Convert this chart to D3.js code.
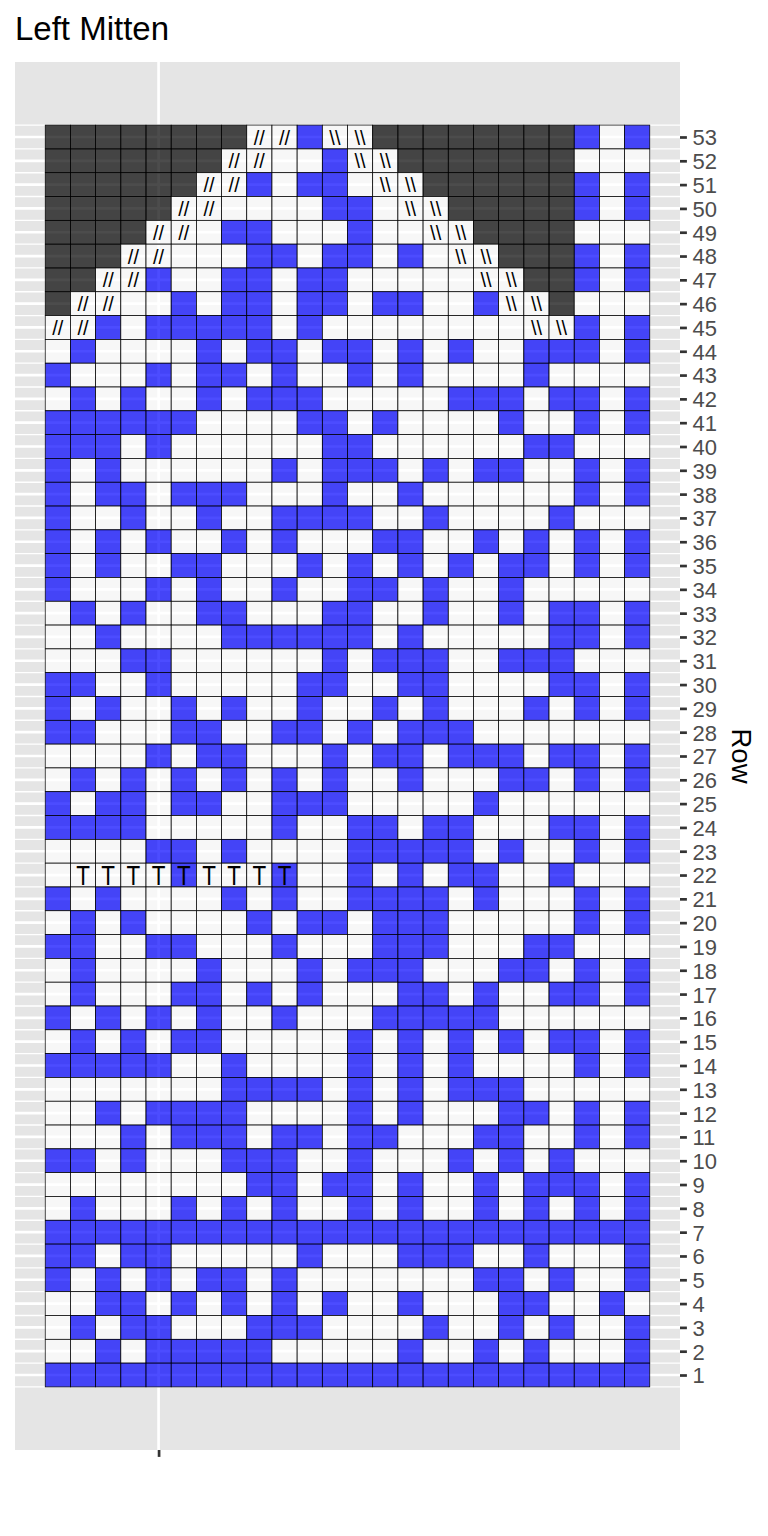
<!DOCTYPE html>
<html>
<head>
<meta charset="utf-8">
<script src="https://cdn.jsdelivr.net/npm/d3@7"></script>
<style>
html, body { margin: 0; padding: 0; background: #ffffff; }
svg { display: block; }
</style>
</head>
<body>
<svg id="chart" width="768" height="1536"></svg>
<script>
// ---------------- DATA ----------------
const chartTitle = "Left Mitten";
const yAxisTitle = "Row";

// y tick labels (rows) and columns
const rowNumbers = [1,2,3,4,5,6,7,8,9,10,11,12,13,14,15,16,17,18,19,20,21,22,23,24,25,26,27,
  28,29,30,31,32,33,34,35,36,37,38,39,40,41,42,43,44,45,46,47,48,49,50,51,52,53];
const columnNumbers = [1,2,3,4,5,6,7,8,9,10,11,12,13,14,15,16,17,18,19,20,21,22,23,24];
const xBreaks = [5];

// Colour of each cell, one string per row (row 53 first), one letter per column
// B = blue, W = white, D = dark (no stitch)
const colourRows = [
  "DDDDDDDDWWBWWDDDDDDDDBWB", // 53
  "DDDDDDDWWWWBWWDDDDDDDWWW", // 52
  "DDDDDDWWBWBBWWWDDDDDDBWB", // 51
  "DDDDDWWWWWWBBWWWDDDDDBWB", // 50
  "DDDDWWWBBWWWBWWWWDDDDWWW", // 49
  "DDDWWWWWBBWBBWBWWWDDDBWB", // 48
  "DDWWBWWBBWBBWWWWWWWDDBWB", // 47
  "DWWWWBWBBWBBWBBWWBWWDWWW", // 46
  "WWBWBBBBBWBWWWWWWWWWWBWB", // 45
  "WBWWWWBWBBWBBWBWBWWBBBWB", // 44
  "BWWWBWBBWBWWBWBWWWWBWWWW", // 43
  "WBWBWWBWBBBWWWWWBBBWBBWB", // 42
  "BBBBBBWWWWBBWBWWWWBWWBWB", // 41
  "BBBWBWWWWWWBBWWWWWWBBWWW", // 40
  "BWBWWWWWWBWBBBWBWBBWWBWB", // 39
  "BWBBWBBBWWWBWWBWWWWWWBWB", // 38
  "BWWBWWBWWBBBBWWBWWWWBWWW", // 37
  "BWBWBWWBWBWWWBBWWBWBWBWB", // 36
  "BWBWWBBWWWBWBWBWBWBBWBWB", // 35
  "BWWWBWBWWBWWBBWBWWBWWWWW", // 34
  "WBWBWWBBWWWBBWWBWWBWBBWB", // 33
  "WWBWWWWBBBBBBWBWWWWWBBWB", // 32
  "WWWBBWWWWWWBWBBBWWBBBWWW", // 31
  "BBWWBWWWWWBBWWBBWWWWBBWB", // 30
  "BWBWWBWBWWBWWBWBWWWBWBWB", // 29
  "BBWWWBBWWBBWBWBBBWWWWWWW", // 28
  "WWWWBWBBWWWBWBBWBBBWBBWB", // 27
  "WBWBWBWBWBWBWWBWWWBBWBWB", // 26
  "BWBBWBBWWBBBWWWWWBWWWWWW", // 25
  "BBBBWWWWWBWWBBWBBWWWBBWB", // 24
  "WWWWBBWBWWWWBBBBBWBWWBWB", // 23
  "WWWWWBWWWBWWBWBWBBWWBWWW", // 22
  "BWBWWWWBWBWWBBBBWBWWWBWB", // 21
  "WBWBWWWWBWBBWBBBWWWWWBWB", // 20
  "BBWWBBWWWBWWWBBBWWWBBWWW", // 19
  "WBWWWWBWWWBWBBBWWWBBWBWB", // 18
  "WBWWWBBWBWBWWWBBWBWWBBWB", // 17
  "BWBWBWBWWBWWWBBBBBWWWWWW", // 16
  "WBWBWBBWWWWWBWBWBWBWBBWB", // 15
  "BBBBBWWBWWWWBWBWBWWWWBWB", // 14
  "WWWWWWWBBBBWBWBWBBBWWWWW", // 13
  "WWBWBBBBWWWWBWBWWWBBWBWB", // 12
  "WWWBWBBBWBBWBBWWWBBWWBWB", // 11
  "BBWBWWWBBBWWBWWWBWBWBWWW", // 10
  "WWWWWWWWBBWBBWBWWBWBBBWB", // 9
  "WBWWWBWBWBWWBWBWWBWBWBWB", // 8
  "BBBBBBBBBBBBBBBBBBBBBBBB", // 7
  "BBWBBWWWWWBWWWBBBWWBWWWB", // 6
  "BWBWBWBBWBWWWWWWWBBWBWWB", // 5
  "WWBBWBWBWBWBWWBWWWBBWWBW", // 4
  "WBWBBWWWBBBWWWWBWWBWBWWB", // 3
  "WWBWBBBBBWWWWWBWWBWBWWWB", // 2
  "BBBBBBBBBBBBBBBBBBBBBBBB"  // 1
];
const colourRowNumbers = [53,52,51,50,49,48,47,46,45,44,43,42,41,40,39,38,37,36,35,34,33,32,31,30,
  29,28,27,26,25,24,23,22,21,20,19,18,17,16,15,14,13,12,11,10,9,8,7,6,5,4,3,2,1];

const fillColours = { B: "#0000FF", W: "#FFFFFF", D: "#000000" };

// Stitch symbols: '/' -> "//", '\\' -> "\\\\", 'T' -> "T", '.' -> none
const symbolRowNumbers = [53, 52, 51, 50, 49, 48, 47, 46, 45, 22];
const symbolPatterns = [
  "........//.\\\\...........",
  ".......//...\\\\..........",
  "......//.....\\\\.........",
  ".....//.......\\\\........",
  "....//.........\\\\.......",
  "...//...........\\\\......",
  "..//.............\\\\.....",
  ".//...............\\\\....",
  "//.................\\\\...",
  ".TTTTTTTTT.............."
];
const symbolGlyphs = { "/": "//", "\\": "\\\\", "T": "T" };

// ---------------- CHART ----------------
const W = 768, H = 1536;
const panel = { left: 15, right: 680, top: 62, bottom: 1450 };
const fontFamily = "'Liberation Sans', Arial, Helvetica, sans-serif";

const svg = d3.select("#chart");
svg.append("rect").attr("width", W).attr("height", H).attr("fill", "#ffffff");

const nCols = columnNumbers.length;
const nRows = rowNumbers.length;
const xExp = nCols * 0.05, yExp = nRows * 0.05;
const x = d3.scaleLinear()
  .domain([0.5 - xExp, nCols + 0.5 + xExp])
  .range([panel.left, panel.right]);
const y = d3.scaleLinear()
  .domain([0.5 - yExp, nRows + 0.5 + yExp])
  .range([panel.bottom, panel.top]);

// panel background
svg.append("rect")
  .attr("x", panel.left).attr("y", panel.top)
  .attr("width", panel.right - panel.left)
  .attr("height", panel.bottom - panel.top)
  .attr("fill", "#E5E5E5");

// grid lines
const grid = svg.append("g");
const minorY = d3.range(0, nRows + 1).map(d => d + 0.5);
grid.selectAll("line.minor").data(minorY).enter().append("line")
  .attr("x1", panel.left).attr("x2", panel.right)
  .attr("y1", d => y(d)).attr("y2", d => y(d))
  .attr("stroke", "#ffffff").attr("stroke-width", 1.35);
grid.selectAll("line.majory").data(rowNumbers).enter().append("line")
  .attr("x1", panel.left).attr("x2", panel.right)
  .attr("y1", d => y(d)).attr("y2", d => y(d))
  .attr("stroke", "#ffffff").attr("stroke-width", 2.7);
grid.selectAll("line.majorx").data(xBreaks).enter().append("line")
  .attr("y1", panel.top).attr("y2", panel.bottom)
  .attr("x1", d => x(d)).attr("x2", d => x(d))
  .attr("stroke", "#ffffff").attr("stroke-width", 2.7);

// tiles
const cells = [];
colourRows.forEach((str, i) => {
  const row = colourRowNumbers[i];
  str.split("").forEach((ch, j) => {
    cells.push({ row: row, col: columnNumbers[j], colour: ch });
  });
});

svg.append("g").selectAll("rect").data(cells).enter().append("rect")
  .attr("x", d => x(d.col - 0.5))
  .attr("y", d => y(d.row + 0.5))
  .attr("width", d => x(d.col + 0.5) - x(d.col - 0.5))
  .attr("height", d => y(d.row - 0.5) - y(d.row + 0.5))
  .attr("fill", d => fillColours[d.colour])
  .attr("fill-opacity", 0.7)
  .attr("stroke", "#000000")
  .attr("stroke-width", 0.7);

// symbols
const symbols = [];
symbolPatterns.forEach((str, i) => {
  const row = symbolRowNumbers[i];
  str.split("").forEach((ch, j) => {
    if (symbolGlyphs[ch]) symbols.push({ row: row, col: columnNumbers[j], text: symbolGlyphs[ch] });
  });
});
// slash symbols sit in stacked rows, so keep their text boxes within one row height
const slashSize = 21, tSize = 28;
svg.append("g").selectAll("text").data(symbols).enter().append("text")
  .attr("transform", d => {
    const s = d.text === "T" ? tSize : slashSize;
    const sx = d.text === "T" ? 0.8 : 0.95;
    return `translate(${x(d.col)},${y(d.row) + s * 0.36}) scale(${sx},1)`;
  })
  .attr("text-anchor", "middle")
  .attr("font-family", fontFamily)
  .attr("font-size", d => d.text === "T" ? tSize : slashSize)
  .attr("fill", "#000000")
  .text(d => d.text);

// right y axis
const yAxis = d3.axisRight(y).tickValues(rowNumbers).tickSize(6.9).tickPadding(5.5);
const gy = svg.append("g").attr("transform", `translate(${panel.right},0)`).call(yAxis);
gy.select(".domain").remove();
gy.selectAll(".tick line").attr("stroke", "#333333").attr("stroke-width", 2.7);
gy.selectAll(".tick text")
  .attr("font-family", fontFamily).attr("font-size", 22)
  .attr("fill", "#4D4D4D").attr("dy", "0.36em");

// bottom x axis (single unlabeled tick)
const xAxis = d3.axisBottom(x).tickValues(xBreaks).tickSize(6.9).tickFormat(() => "");
const gx = svg.append("g").attr("transform", `translate(0,${panel.bottom})`).call(xAxis);
gx.select(".domain").remove();
gx.selectAll(".tick line").attr("stroke", "#333333").attr("stroke-width", 2.7);

// axis title
svg.append("text")
  .attr("transform", `translate(732,${(panel.top + panel.bottom) / 2}) rotate(90)`)
  .attr("text-anchor", "middle")
  .attr("font-family", fontFamily)
  .attr("font-size", 27.5)
  .attr("fill", "#000000")
  .text(yAxisTitle);

// title
svg.append("text")
  .attr("x", 15).attr("y", 40)
  .attr("font-family", fontFamily)
  .attr("font-size", 33)
  .attr("fill", "#000000")
  .text(chartTitle);
</script>
</body>
</html>
